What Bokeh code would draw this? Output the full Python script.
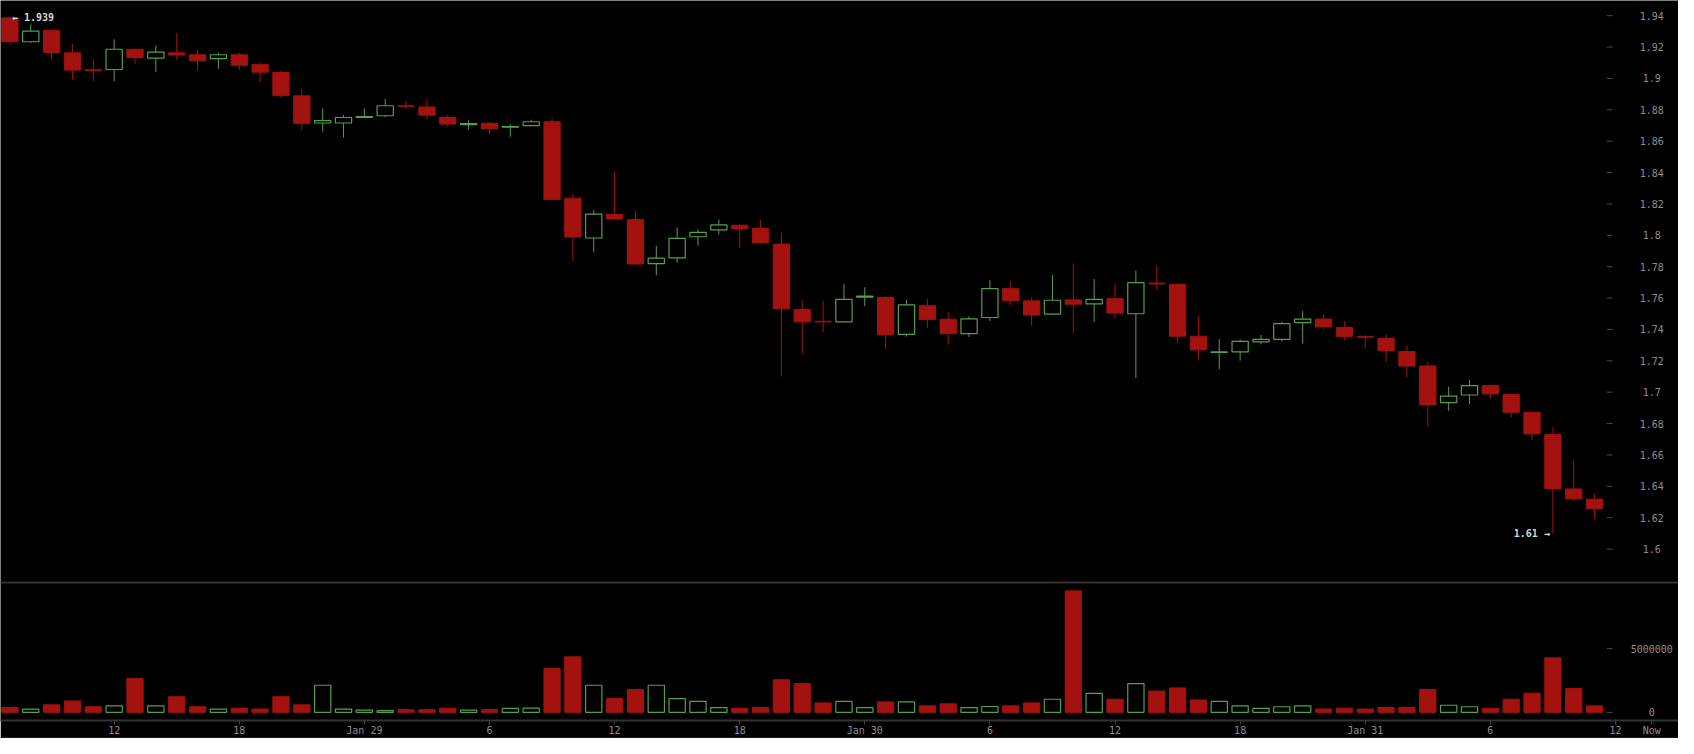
from bokeh.plotting import figure
from bokeh.models import ColumnDataSource, Range1d, LinearAxis, FixedTicker, Span
from bokeh.core.properties import value
from bokeh.embed import file_html
from bokeh.resources import INLINE

# ---------------- data (hourly candles, Jan 28 07:00 -> Jan 31 11:00) ----------------
first_candle_hour = 7  # hours after Jan 28 00:00

opens = [1.9386, 1.9234, 1.9307, 1.9163, 1.9055, 1.9057, 1.9186, 1.9130, 1.9163, 1.9151,
         1.9126, 1.9151, 1.9088, 1.9038, 1.8889, 1.8716, 1.8716, 1.8751, 1.8762, 1.8826,
         1.8818, 1.8751, 1.8706, 1.8714, 1.8689, 1.8699, 1.8724, 1.8237, 1.7983, 1.8133,
         1.8100, 1.7819, 1.7856, 1.7991, 1.8035, 1.8064, 1.8044, 1.7944, 1.7527, 1.7452,
         1.7448, 1.7606, 1.7604, 1.7369, 1.7551, 1.7465, 1.7373, 1.7476, 1.7660, 1.7582,
         1.7498, 1.7588, 1.7563, 1.7596, 1.7500, 1.7695, 1.7688, 1.7357, 1.7253, 1.7257,
         1.7321, 1.7337, 1.7444, 1.7466, 1.7412, 1.7354, 1.7344, 1.7259, 1.7167, 1.6934,
         1.6982, 1.7042, 1.6985, 1.6872, 1.6730, 1.6383, 1.6318]
highs = [1.9390, 1.9344, 1.9313, 1.9218, 1.9124, 1.9249, 1.9190, 1.9209, 1.9290, 1.9186,
         1.9165, 1.9165, 1.9103, 1.9051, 1.8932, 1.8809, 1.8766, 1.8809, 1.8870, 1.8859,
         1.8866, 1.8770, 1.8734, 1.8722, 1.8707, 1.8737, 1.8745, 1.8266, 1.8162, 1.8404,
         1.8158, 1.7933, 1.8050, 1.8038, 1.8100, 1.8071, 1.8096, 1.8016, 1.7585, 1.7584,
         1.7690, 1.7669, 1.7610, 1.7588, 1.7596, 1.7513, 1.7484, 1.7713, 1.7710, 1.7604,
         1.7746, 1.7821, 1.7721, 1.7694, 1.7775, 1.7808, 1.7690, 1.7484, 1.7337, 1.7337,
         1.7365, 1.7450, 1.7518, 1.7493, 1.7452, 1.7366, 1.7370, 1.7299, 1.7194, 1.7035,
         1.7078, 1.7042, 1.6985, 1.6872, 1.6780, 1.6565, 1.6352]
lows = [1.9213, 1.9228, 1.9124, 1.8995, 1.8982, 1.8982, 1.9093, 1.9040, 1.9120, 1.9051,
        1.9062, 1.9053, 1.8978, 1.8876, 1.8668, 1.8662, 1.8624, 1.8751, 1.8753, 1.8807,
        1.8741, 1.8691, 1.8674, 1.8641, 1.8628, 1.8697, 1.8216, 1.7835, 1.7892, 1.8104,
        1.7817, 1.7746, 1.7825, 1.7933, 1.8006, 1.7918, 1.7944, 1.7101, 1.7240, 1.7382,
        1.7448, 1.7548, 1.7273, 1.7355, 1.7407, 1.7304, 1.7351, 1.7454, 1.7554, 1.7423,
        1.7498, 1.7377, 1.7448, 1.7467, 1.7090, 1.7652, 1.7313, 1.7211, 1.7147, 1.7201,
        1.7305, 1.7324, 1.7309, 1.7399, 1.7330, 1.7279, 1.7193, 1.7096, 1.6779, 1.6882,
        1.6925, 1.6960, 1.6838, 1.6694, 1.6100, 1.6306, 1.6192]
closes = [1.9234, 1.9301, 1.9165, 1.9053, 1.9050, 1.9186, 1.9132, 1.9168, 1.9149, 1.9115,
          1.9151, 1.9084, 1.9040, 1.8890, 1.8714, 1.8731, 1.8751, 1.8757, 1.8826, 1.8822,
          1.8766, 1.8709, 1.8712, 1.8681, 1.8693, 1.8724, 1.8229, 1.7989, 1.8135, 1.8104,
          1.7817, 1.7854, 1.7981, 1.8019, 1.8066, 1.8041, 1.7954, 1.7532, 1.7448, 1.7448,
          1.7592, 1.7612, 1.7367, 1.7557, 1.7463, 1.7373, 1.7467, 1.7660, 1.7584, 1.7492,
          1.7586, 1.7561, 1.7592, 1.7504, 1.7698, 1.7690, 1.7357, 1.7270, 1.7257, 1.7324,
          1.7337, 1.7437, 1.7466, 1.7416, 1.7356, 1.7350, 1.7264, 1.7167, 1.6919, 1.6975,
          1.7042, 1.6989, 1.6872, 1.6734, 1.6386, 1.6320, 1.6258]
volumes_millions = [0.38, 0.26, 0.59, 0.90, 0.44, 0.51, 2.67, 0.51, 1.23, 0.44,
                    0.26, 0.31, 0.26, 1.23, 0.59, 2.13, 0.26, 0.18, 0.13, 0.21,
                    0.21, 0.33, 0.18, 0.21, 0.31, 0.33, 3.44, 4.36, 2.13, 1.10,
                    1.79, 2.13, 1.08, 0.87, 0.38, 0.31, 0.38, 2.56, 2.26, 0.74,
                    0.87, 0.38, 0.82, 0.82, 0.51, 0.67, 0.38, 0.46, 0.51, 0.74,
                    1.03, 9.54, 1.49, 1.03, 2.26, 1.67, 1.92, 0.97, 0.87, 0.51,
                    0.31, 0.44, 0.51, 0.26, 0.33, 0.26, 0.38, 0.38, 1.79, 0.56,
                    0.44, 0.31, 1.03, 1.51, 4.28, 1.87, 0.51]

x_tick_hours = [12, 18, 24, 30, 36, 42, 48, 54, 60, 66, 72, 78, 84]
x_tick_labels = ["12", "18", "Jan 29", "6", "12", "18", "Jan 30", "6", "12", "18", "Jan 31", "6", "12"]
now_label = "Now"

price_ticks = [1.6, 1.62, 1.64, 1.66, 1.68, 1.7, 1.72, 1.74, 1.76, 1.78, 1.8,
               1.82, 1.84, 1.86, 1.88, 1.9, 1.92, 1.94]
price_tick_labels = ["1.6", "1.62", "1.64", "1.66", "1.68", "1.7", "1.72", "1.74", "1.76",
                     "1.78", "1.8", "1.82", "1.84", "1.86", "1.88", "1.9", "1.92", "1.94"]
volume_ticks = [0, 5000000]
volume_tick_labels = ["0", "5000000"]

# ---------------- layout constants (reference pixel geometry) ----------------
REF_W = 1694.0
PX_BAR = 21.05          # pixels per hourly candle
FIRST_PX = 9.5          # pixel centre of the first candle
FRAME_BOTTOM_PX = 735.0 # bottom of plotting area (top of time axis)
SEP_PX = 594.0          # price / volume separator
P_REF_PX, P_REF_VAL, P_PX_PER_UNIT = 15.5, 1.94, 32.03 / 0.02
V_ZERO_PX, V_PX_PER_UNIT = 726.7, 65.0 / 5e6
LABEL_PX = 1667.0       # centre of right-hand label column
TICKMARK_PX = 1624.5

def px_to_x(px):
    return (px - FIRST_PX) / PX_BAR

def px_to_price(py):
    return P_REF_VAL - (py - P_REF_PX) / P_PX_PER_UNIT

def px_to_vol(py):
    return (V_ZERO_PX - py) / V_PX_PER_UNIT

n = len(opens)
xs = list(range(n))
volumes = [v * 1e6 for v in volumes_millions]
up = [c >= o for o, c in zip(opens, closes)]

RED = "#a3120f"
GREEN = "#55a04a"
GRID_GREY = "#333333"
LABEL_GREY = "#8e8e8e"
FONT = value("DejaVu Sans Mono")


def subset(mask):
    idx = [i for i in xs if mask[i]]
    return ColumnDataSource(dict(
        x=idx,
        high=[highs[i] for i in idx],
        low=[lows[i] for i in idx],
        top=[max(opens[i], closes[i]) for i in idx],
        bottom=[min(opens[i], closes[i]) for i in idx],
        vol=[volumes[i] for i in idx],
    ))


src_up = subset(up)
src_dn = subset([not u for u in up])

x_start = px_to_x(0.0)
x_end = px_to_x(REF_W)

p = figure(width=1678, height=738, output_backend="svg", toolbar_location=None,
           x_range=Range1d(x_start, x_end),
           y_range=Range1d(px_to_price(FRAME_BOTTOM_PX), px_to_price(0.0)),
           y_axis_location=None, min_border=0)
p.extra_y_ranges = {"vol": Range1d(px_to_vol(FRAME_BOTTOM_PX), px_to_vol(0.0))}
p.background_fill_color = "black"
p.border_fill_color = "black"
p.outline_line_color = None
p.grid.visible = False

# separator line between price and volume panels
p.add_layout(Span(location=px_to_price(SEP_PX), dimension="width",
                  line_color=GRID_GREY, line_width=2))

# --- candles ---
BW = 0.78
p.segment(x0="x", y0="low", x1="x", y1="high", source=src_dn, line_color=RED, line_width=1)
p.segment(x0="x", y0="low", x1="x", y1="high", source=src_up, line_color=GREEN, line_width=1)
p.vbar(x="x", width=BW, top="top", bottom="bottom", source=src_dn,
       fill_color=RED, line_color=RED, line_width=1)
p.vbar(x="x", width=BW, top="top", bottom="bottom", source=src_up,
       fill_color="black", line_color=GREEN, line_width=1.2)

# --- volume ---
p.vbar(x="x", width=BW, top="vol", bottom=0, source=src_dn, y_range_name="vol",
       fill_color=RED, line_color=RED, line_width=1)
p.vbar(x="x", width=BW, top="vol", bottom=0, source=src_up, y_range_name="vol",
       fill_color="black", line_color=GREEN, line_width=1.2)

# --- right-hand value scales ---
lx = px_to_x(LABEL_PX)
tx = px_to_x(TICKMARK_PX)
p.scatter(x=[tx] * len(price_ticks), y=price_ticks, marker="dash", size=6,
          line_color="#4a4a4a")
p.text(x=[lx] * len(price_ticks), y=price_ticks, text=price_tick_labels,
       text_align="center", text_baseline="middle", text_font=FONT,
       text_font_size="10px", text_color=LABEL_GREY)
p.scatter(x=[tx] * len(volume_ticks), y=volume_ticks, marker="dash", size=6,
          line_color="#4a4a4a", y_range_name="vol")
p.text(x=[lx] * len(volume_ticks), y=volume_ticks, text=volume_tick_labels,
       text_align="center", text_baseline="middle", text_font=FONT,
       text_font_size="10px", text_color=LABEL_GREY, y_range_name="vol")

# --- high / low markers ---
i_hi = max(xs, key=lambda i: highs[i])
i_lo = min(xs, key=lambda i: lows[i])
fmt = lambda v: ("%.3f" % v).rstrip("0").rstrip(".")
p.text(x=[i_hi], y=[highs[i_hi]], text=["\u2190 " + fmt(highs[i_hi])], x_offset=2,
       text_align="left", text_baseline="middle", text_font=FONT,
       text_font_size="10px", text_font_style="bold", text_color="#d6d6d6")
p.text(x=[i_lo], y=[lows[i_lo]], text=[fmt(lows[i_lo]) + " \u2192"], x_offset=-3,
       text_align="right", text_baseline="middle", text_font=FONT,
       text_font_size="10px", text_font_style="bold", text_color="#d6d6d6")

# --- time axis ---
tick_pos = [h - first_candle_hour for h in x_tick_hours]
now_pos = round(px_to_x(LABEL_PX), 3)
xa = p.xaxis[0]
xa.ticker = FixedTicker(ticks=tick_pos + [now_pos])
xa.major_label_overrides = {**{t: l for t, l in zip(tick_pos, x_tick_labels)}, now_pos: now_label}
xa.axis_line_color = GRID_GREY
xa.axis_line_width = 2
xa.major_tick_line_color = "#444444"
xa.major_tick_out = 4
xa.major_tick_in = 0
xa.minor_tick_line_color = None
xa.major_label_standoff = 0
xa.major_label_text_font = "DejaVu Sans Mono"
xa.major_label_text_font_size = "10px"
xa.major_label_text_color = LABEL_GREY

bottom_line = LinearAxis(ticker=FixedTicker(ticks=[]), axis_line_color=GRID_GREY,
                         axis_line_width=2, major_tick_line_color=None,
                         minor_tick_line_color=None, major_label_text_color=None)
p.add_layout(bottom_line, "below")

open("out.html", "w").write(file_html(p, INLINE))
